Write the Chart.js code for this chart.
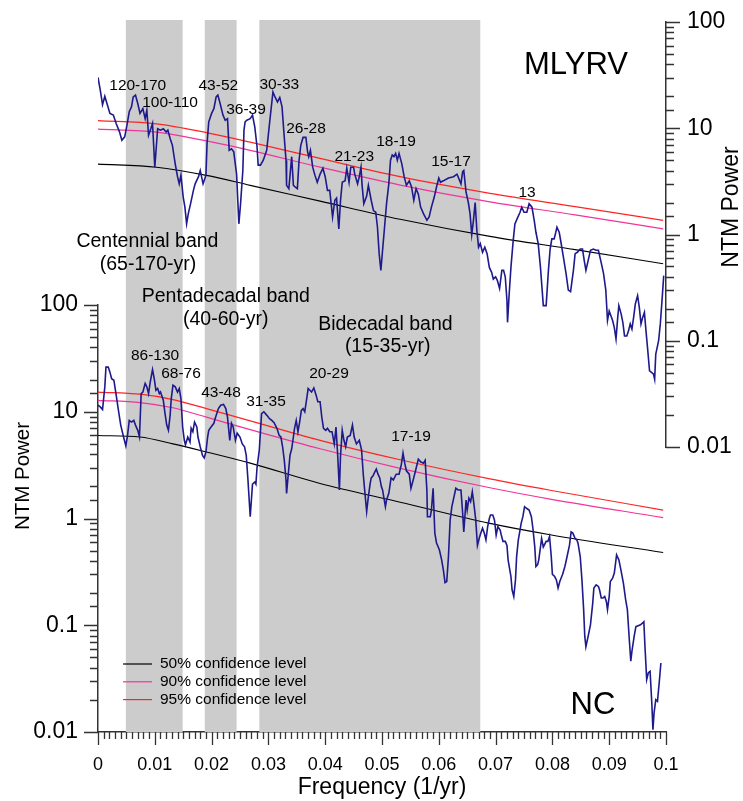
<!DOCTYPE html>
<html>
<head>
<meta charset="utf-8">
<script src="https://cdn.jsdelivr.net/npm/chart.js@4.4.1/dist/chart.umd.min.js"></script>
<style>
  html, body { margin: 0; padding: 0; background: #fff; }
  #wrap { position: relative; width: 743px; height: 801px; }
  #wrap canvas { position: absolute; left: 0; top: 0; }
</style>
</head>
<body>
<div id="wrap">
  <canvas id="ncChart" width="743" height="801"></canvas>
  <canvas id="mlyrvChart" width="743" height="801"></canvas>
</div>
<script>
// ---- MLYRV spectrum (upper panel, right axis) ----
const mlyrvFreq = [
  0, 0.0004, 0.0008, 0.0012, 0.0015, 0.0021, 0.0027, 0.0032, 0.0038, 0.0042,
  0.0047, 0.0051, 0.0055, 0.0059, 0.0062, 0.0066, 0.0070, 0.0074, 0.0079, 0.0083,
  0.0086, 0.0089, 0.0093, 0.0096, 0.0100, 0.0105, 0.0110, 0.0115, 0.0120, 0.0123,
  0.0127, 0.0131, 0.0136, 0.0140, 0.0143, 0.0146, 0.0150, 0.0153, 0.0156, 0.0159,
  0.0163, 0.0168, 0.0171, 0.0177, 0.0180, 0.0185, 0.0190, 0.0192, 0.0195, 0.0200,
  0.0204, 0.0208, 0.0211, 0.0215, 0.0220, 0.0224, 0.0228, 0.0231, 0.0235, 0.0239,
  0.0244, 0.0248, 0.0251, 0.0255, 0.0257, 0.0259, 0.0262, 0.0268, 0.0272, 0.0276,
  0.0280, 0.0282, 0.0286, 0.0291, 0.0297, 0.0302, 0.0308, 0.0312, 0.0316, 0.0320,
  0.0324, 0.0327, 0.0331, 0.0332, 0.0336, 0.0341, 0.0344, 0.0347, 0.0351, 0.0354,
  0.0357, 0.0361, 0.0366, 0.0369, 0.0371, 0.0374, 0.0378, 0.0382, 0.0386, 0.0391,
  0.0396, 0.0400, 0.0404, 0.0408, 0.0413, 0.0417, 0.0420, 0.0424, 0.0427, 0.0430,
  0.0435, 0.0438, 0.0442, 0.0445, 0.0450, 0.0452, 0.0457, 0.0460, 0.0463, 0.0465,
  0.0468, 0.0473, 0.0476, 0.0481, 0.0485, 0.0489, 0.0492, 0.0495, 0.0498, 0.0501,
  0.0504, 0.0508, 0.0512, 0.0515, 0.0518, 0.0521, 0.0524, 0.0527, 0.0530, 0.0535,
  0.0539, 0.0543, 0.0548, 0.0552, 0.0556, 0.0560, 0.0564, 0.0568, 0.0573, 0.0579,
  0.0583, 0.0587, 0.0592, 0.0596, 0.0600, 0.0603, 0.0608, 0.0617, 0.0626, 0.0632,
  0.0634, 0.0639, 0.0642, 0.0644, 0.0648, 0.0652, 0.0655, 0.0658, 0.0661, 0.0664,
  0.0667, 0.0670, 0.0673, 0.0677, 0.0681, 0.0685, 0.0689, 0.0693, 0.0696, 0.0700,
  0.0703, 0.0707, 0.0711, 0.0714, 0.0717, 0.0720, 0.0721, 0.0724, 0.0727, 0.0731,
  0.0734, 0.0738, 0.0743, 0.0746, 0.0750, 0.0755, 0.0759, 0.0764, 0.0768, 0.0771,
  0.0775, 0.0779, 0.0784, 0.0789, 0.0793, 0.0796, 0.0799, 0.0803, 0.0806, 0.0808,
  0.0812, 0.0815, 0.0819, 0.0824, 0.0828, 0.0832, 0.0837, 0.0840, 0.0844, 0.0849,
  0.0853, 0.0856, 0.0859, 0.0863, 0.0867, 0.0872, 0.0877, 0.0881, 0.0885, 0.0890,
  0.0894, 0.0897, 0.0900, 0.0903, 0.0906, 0.0909, 0.0912, 0.0915, 0.0917, 0.0921,
  0.0924, 0.0927, 0.0931, 0.0934, 0.0937, 0.0940, 0.0943, 0.0946, 0.0950, 0.0953,
  0.0956, 0.0959, 0.0962, 0.0965, 0.0968, 0.0971, 0.0975, 0.0978, 0.0980, 0.0982,
  0.0987, 0.0990, 0.0993, 0.0996
];
const mlyrvPower = [
  30.1, 22.8, 16.7, 20.0, 17.7, 13.8, 13.3, 11.1, 9.2, 7.7,
  8.3, 10.7, 14.3, 15.9, 19.7, 20.5, 17.1, 13.8, 15.3, 12.3,
  14.8, 8.6, 9.9, 11.1, 4.3, 9.9, 9.6, 9.9, 9.2, 9.6,
  8.0, 6.9, 4.6, 3.5, 3.0, 3.6, 2.25, 1.81, 1.26, 1.57,
  1.95, 2.6, 3.0, 3.5, 4.0, 3.0, 3.6, 7.2, 11.5, 13.8,
  15.3, 19.7, 20.5, 17.1, 13.3, 11.9, 12.3, 6.2, 6.4, 6.0,
  3.7, 1.26, 1.95, 4.0, 9.6, 11.5, 11.9, 12.3, 13.3, 10.3,
  6.7, 4.5, 4.5, 5.0, 6.2, 11.1, 22.0, 19.5, 17.7, 19.5,
  15.9, 9.6, 5.0, 2.9, 2.7, 5.4, 2.9, 2.8, 2.7, 5.0,
  6.9, 8.2, 8.2, 6.0, 5.4, 6.2, 4.3, 3.6, 3.1, 3.7,
  4.2, 3.5, 2.6, 2.6, 1.46, 2.1, 2.2, 1.13, 2.1, 3.1,
  3.2, 4.2, 3.1, 4.3, 4.3, 3.7, 3.0, 3.5, 4.3, 2.9,
  1.95, 2.3, 2.9, 2.1, 1.68, 1.62, 1.17, 0.66, 0.46, 0.71,
  1.09, 1.95, 3.0, 5.0, 5.6, 5.4, 5.8, 5.0, 5.8, 4.6,
  3.5, 2.9, 3.2, 2.8, 2.1, 2.7, 2.4, 1.81, 1.57, 1.36,
  1.46, 1.81, 2.25, 2.8, 3.4, 3.1, 3.2, 3.4, 3.5, 3.7,
  3.5, 3.0, 3.9, 4.0, 2.5, 2.0, 1.57, 1.0, 1.36, 2.0,
  1.09, 0.76, 0.82, 0.68, 0.76, 0.66, 0.49, 0.44, 0.38, 0.40,
  0.37, 0.31, 0.46, 0.46, 0.40, 0.24, 0.149, 0.28, 0.49, 0.88,
  1.26, 1.41, 1.62, 1.81, 1.62, 1.62, 1.95, 1.81, 1.36, 1.05,
  0.82, 0.49, 0.214, 0.214, 0.46, 0.73, 0.91, 0.91, 1.05, 1.17,
  1.05, 0.85, 0.63, 0.43, 0.30, 0.29, 0.46, 0.66, 0.68, 0.73,
  0.73, 0.57, 0.46, 0.57, 0.71, 0.73, 0.71, 0.71, 0.57, 0.43,
  0.30, 0.155, 0.19, 0.172, 0.155, 0.133, 0.104, 0.166, 0.214, 0.179,
  0.149, 0.111, 0.111, 0.124, 0.144, 0.129, 0.166, 0.222, 0.266, 0.206,
  0.144, 0.166, 0.185, 0.120, 0.080, 0.052, 0.050, 0.0485, 0.0435, 0.075,
  0.10, 0.144, 0.24, 0.41
];
const mlyrvConfFreq = [0, 0.0103, 0.0191, 0.0268, 0.0391, 0.0532, 0.0690, 0.0840, 0.0995];
const mlyrvConf95 = [11.8, 11.0, 9.1, 7.4, 5.2, 3.5, 2.44, 1.83, 1.36];
const mlyrvConf90 = [9.8, 9.2, 7.6, 6.2, 4.3, 2.92, 2.03, 1.53, 1.13];
const mlyrvConf50 = [4.6, 4.3, 3.6, 2.9, 2.06, 1.39, 0.96, 0.72, 0.53];

// ---- NC spectrum (lower panel, left axis) ----
const ncFreq = [
  0, 0.0004, 0.0008, 0.0012, 0.0014, 0.0018, 0.0021, 0.0024, 0.0028, 0.0032,
  0.0036, 0.0040, 0.0045, 0.0049, 0.0052, 0.0055, 0.0059, 0.0063, 0.0066, 0.0070,
  0.0073, 0.0076, 0.0079, 0.0083, 0.0086, 0.0089, 0.0092, 0.0096, 0.0099, 0.0102,
  0.0105, 0.0108, 0.0110, 0.0115, 0.0118, 0.0121, 0.0124, 0.0127, 0.0129, 0.0132,
  0.0136, 0.0140, 0.0143, 0.0146, 0.0149, 0.0152, 0.0154, 0.0158, 0.0162, 0.0164,
  0.0167, 0.0170, 0.0174, 0.0176, 0.0180, 0.0184, 0.0187, 0.0190, 0.0193, 0.0195,
  0.0199, 0.0204, 0.0207, 0.0212, 0.0216, 0.0221, 0.0225, 0.0228, 0.0232, 0.0235,
  0.0238, 0.0242, 0.0245, 0.0250, 0.0254, 0.0258, 0.0261, 0.0264, 0.0268, 0.0272,
  0.0276, 0.0278, 0.0280, 0.0284, 0.0288, 0.0292, 0.0297, 0.0302, 0.0306, 0.0310,
  0.0315, 0.0319, 0.0322, 0.0325, 0.0328, 0.0331, 0.0332, 0.0335, 0.0338, 0.0341,
  0.0344, 0.0346, 0.0349, 0.0352, 0.0355, 0.0358, 0.0361, 0.0364, 0.0367, 0.0370,
  0.0373, 0.0376, 0.0380, 0.0384, 0.0387, 0.0391, 0.0394, 0.0397, 0.0401, 0.0404,
  0.0408, 0.0412, 0.0416, 0.0419, 0.0422, 0.0425, 0.0427, 0.0430, 0.0433, 0.0436,
  0.0439, 0.0444, 0.0448, 0.0451, 0.0455, 0.0460, 0.0464, 0.0467, 0.0470, 0.0473,
  0.0476, 0.0479, 0.0481, 0.0484, 0.0487, 0.0490, 0.0493, 0.0496, 0.0499, 0.0501,
  0.0506, 0.0508, 0.0512, 0.0516, 0.0520, 0.0525, 0.0530, 0.0534, 0.0537, 0.0540,
  0.0543, 0.0548, 0.0551, 0.0555, 0.0559, 0.0564, 0.0568, 0.0573, 0.0576, 0.0579,
  0.0580, 0.0585, 0.0587, 0.0590, 0.0593, 0.0596, 0.0601, 0.0605, 0.0608, 0.0611,
  0.0614, 0.0617, 0.0620, 0.0623, 0.0627, 0.0630, 0.0634, 0.0639, 0.0642, 0.0644,
  0.0648, 0.0650, 0.0653, 0.0656, 0.0659, 0.0662, 0.0665, 0.0668, 0.0671, 0.0674,
  0.0677, 0.0680, 0.0683, 0.0686, 0.0689, 0.0691, 0.0695, 0.0698, 0.0701, 0.0704,
  0.0708, 0.0710, 0.0713, 0.0717, 0.0720, 0.0722, 0.0727, 0.0729, 0.0732, 0.0735,
  0.0737, 0.0740, 0.0743, 0.0745, 0.0748, 0.0751, 0.0755, 0.0759, 0.0763, 0.0766,
  0.0769, 0.0771, 0.0774, 0.0776, 0.0781, 0.0784, 0.0789, 0.0792, 0.0795, 0.0798,
  0.0800, 0.0804, 0.0807, 0.0810, 0.0813, 0.0818, 0.0822, 0.0825, 0.0830, 0.0833,
  0.0836, 0.0840, 0.0843, 0.0845, 0.0849, 0.0852, 0.0855, 0.0857, 0.0859, 0.0863,
  0.0867, 0.0871, 0.0873, 0.0877, 0.0881, 0.0883, 0.0886, 0.0889, 0.0892, 0.0895,
  0.0897, 0.0900, 0.0902, 0.0906, 0.0909, 0.0913, 0.0917, 0.0920, 0.0925, 0.0929,
  0.0932, 0.0935, 0.0938, 0.0940, 0.0944, 0.0947, 0.0951, 0.0955, 0.0959, 0.0961,
  0.0963, 0.0966, 0.0969, 0.0972, 0.0975, 0.0977, 0.0979, 0.0982, 0.0985, 0.0988,
  0.0991
];
const ncPower = [
  11.5, 11.1, 10.5, 17.1, 26.2, 26.2, 23.5, 20.4, 19.7, 14.3,
  10.3, 7.5, 5.8, 4.8, 6.0, 8.3, 8.0, 8.3, 7.5, 6.7,
  5.8, 14.8, 15.3, 18.4, 17.1, 14.8, 19.0, 24.8, 20.4, 15.9,
  16.5, 14.8, 15.3, 12.8, 9.6, 7.5, 6.7, 9.3, 13.3, 17.7,
  17.1, 15.3, 16.5, 13.3, 7.2, 5.4, 4.9, 5.8, 5.2, 7.0,
  6.5, 8.0, 7.2, 5.8, 4.7, 3.9, 3.7, 4.2, 5.8, 6.7,
  7.2, 7.8, 8.9, 10.7, 11.5, 11.7, 10.7, 8.9, 5.4, 7.8,
  7.2, 5.4, 6.3, 5.8, 5.0, 4.7, 3.9, 2.3, 1.04, 2.1,
  2.2, 2.1, 3.0, 4.4, 9.6, 10.0, 9.3, 8.6, 8.3, 7.9,
  7.0, 6.0, 5.8, 4.7, 3.5, 2.3, 1.72, 2.6, 3.9, 4.5,
  5.8, 7.0, 8.3, 6.5, 8.0, 10.3, 10.7, 10.0, 12.8, 16.5,
  15.9, 15.3, 16.7, 14.3, 12.4, 12.4, 8.9, 7.0, 6.7, 7.0,
  6.5, 6.5, 5.0, 7.2, 3.9, 1.85, 3.9, 6.7, 5.4, 4.7,
  5.8, 6.0, 7.5, 5.8, 5.0, 5.4, 4.4, 2.6, 1.72, 1.16,
  1.60, 2.1, 2.4, 2.5, 2.7, 2.9, 2.6, 2.4, 1.98, 1.85,
  1.29, 1.49, 1.72, 2.4, 2.3, 2.6, 2.6, 3.2, 4.1, 3.3,
  2.8, 2.6, 1.92, 2.3, 2.8, 3.6, 3.4, 3.3, 3.5, 1.85,
  1.04, 1.04, 1.2, 1.92, 0.73, 0.59, 0.51, 0.41, 0.33, 0.251,
  0.257, 0.44, 0.97, 1.29, 1.62, 1.92, 1.85, 1.85, 1.12, 0.75,
  1.49, 1.2, 1.55, 1.44, 1.78, 1.34, 0.97, 0.56, 0.65, 0.73,
  0.81, 0.73, 0.63, 0.84, 1.0, 1.08, 1.08, 0.97, 0.70, 0.84,
  0.78, 0.70, 0.61, 0.61, 0.56, 0.41, 0.286, 0.215, 0.186, 0.266,
  0.44, 0.63, 0.78, 0.90, 1.04, 1.29, 1.24, 1.2, 1.04, 0.78,
  0.54, 0.355, 0.37, 0.41, 0.65, 0.54, 0.61, 0.61, 0.68, 0.44,
  0.30, 0.286, 0.266, 0.223, 0.257, 0.30, 0.355, 0.42, 0.56, 0.75,
  0.73, 0.65, 0.63, 0.59, 0.44, 0.266, 0.14, 0.079, 0.063, 0.079,
  0.101, 0.161, 0.223, 0.239, 0.231, 0.215, 0.180, 0.180, 0.186, 0.167,
  0.14, 0.186, 0.257, 0.276, 0.308, 0.456, 0.41, 0.343, 0.248, 0.173,
  0.140, 0.079, 0.046, 0.057, 0.079, 0.097, 0.099, 0.101, 0.105, 0.108,
  0.063, 0.031, 0.036, 0.037, 0.0187, 0.0105, 0.0151, 0.0201, 0.0194, 0.0288,
  0.0443
];
const ncConfFreq = [0, 0.0074, 0.0132, 0.0191, 0.0268, 0.0391, 0.0532, 0.0690, 0.0796, 0.0995];
const ncConf95 = [15.3, 14.6, 13.0, 10.7, 8.2, 5.4, 3.55, 2.35, 1.84, 1.20];
const ncConf90 = [12.8, 12.2, 10.9, 8.9, 6.8, 4.5, 2.95, 1.94, 1.52, 1.02];
const ncConf50 = [6.0, 5.8, 5.0, 4.2, 3.3, 2.13, 1.42, 0.90, 0.705, 0.48];

// ---- frequency bands (shaded) ----
const bandStart = [0.0049, 0.0188, 0.0284];
const bandEnd = [0.0149, 0.0244, 0.0673];
const bandNames = ['Centennial band', 'Pentadecadal band', 'Bidecadal band'];
const bandRanges = ['(65-170-yr)', '(40-60-yr)', '(15-35-yr)'];
// anchors in upper-panel data units (frequency, power)
const bandNameFreq = [0.0087, 0.0225, 0.0506];
const bandNamePower = [0.85, 0.258, 0.141];
const bandRangeFreq = [0.0088, 0.0225, 0.0510];
const bandRangePower = [0.516, 0.157, 0.0873];

// ---- peak period labels (years) ----
const mlyrvPeakText = ['120-170', '100-110', '43-52', '36-39', '30-33', '26-28', '21-23', '18-19', '15-17', '13'];
const mlyrvPeakFreq = [0.00699, 0.01268, 0.02118, 0.02606, 0.03192, 0.03662, 0.04512, 0.05246, 0.06215, 0.07553];
const mlyrvPeakPower = [25.1, 17.5, 25.1, 14.9, 25.5, 9.8, 5.4, 7.5, 4.84, 2.47];
const ncPeakText = ['86-130', '68-76', '43-48', '31-35', '20-29', '17-19'];
const ncPeakFreq = [0.01004, 0.01461, 0.02165, 0.02958, 0.04067, 0.05511];
const ncPeakPower = [33.6, 22.9, 15.1, 12.4, 22.9, 5.84];

// ---- layout / style ----
const FONT = '"Liberation Sans", Arial, Helvetica, sans-serif';
const W = 743, H = 801;
const PLOT_LEFT = 98, PLOT_RIGHT = 666;
const TOP_PANEL = { top: 22, bottom: 447 };
const BOTTOM_PANEL = { top: 305, bottom: 732 };
const BAND_TOP = 20;
const AXIS_COLOR = '#333';
const NAVY = '#1e1a8c';
const RED = '#ff2424';
const PINK = '#f2339a';

Chart.defaults.font.family = FONT;
Chart.defaults.color = '#000';

function toPoints(xs, ys) { return xs.map((x, i) => ({ x: x, y: ys[i] })); }
function isDecade(v) { const l = Math.log10(v); return Math.abs(l - Math.round(l)) < 1e-6; }
function isHundredth(v) { return Math.abs(v * 100 - Math.round(v * 100)) < 1e-6; }
function drawText(ctx, text, x, y, size) {
  ctx.font = size + 'px ' + FONT;
  ctx.fillText(text, x, y);
}

function seriesSet(freq, power, c95, c90, c50, cFreq) {
  return [
    { label: 'series', data: toPoints(freq, power), borderColor: NAVY, borderWidth: 1.6, pointRadius: 0 },
    { label: '95% confidence level', data: toPoints(cFreq, c95), borderColor: RED, borderWidth: 1.2, pointRadius: 0, cubicInterpolationMode: 'monotone' },
    { label: '90% confidence level', data: toPoints(cFreq, c90), borderColor: PINK, borderWidth: 1.2, pointRadius: 0, cubicInterpolationMode: 'monotone' },
    { label: '50% confidence level', data: toPoints(cFreq, c50), borderColor: '#000', borderWidth: 1.1, pointRadius: 0, cubicInterpolationMode: 'monotone' }
  ];
}

// fixed axis width, and no extra label padding pushed into the layout
const fixWidth = w => s => { s.width = w; s.paddingTop = 0; s.paddingBottom = 0; };

const logAxis = (position, afterFit, pad) => ({
  type: 'logarithmic', position: position, min: 0.01, max: 100,
  afterFit: afterFit,
  grid: { display: false, drawTicks: false },
  border: { color: AXIS_COLOR, width: 1.5 },
  ticks: {
    autoSkip: false, padding: pad, color: '#000', font: { size: 23 },
    callback: v => isDecade(v) ? String(parseFloat(v.toPrecision(3))) : ''
  }
});

// outward tick marks, long on labelled values
const tickMarks = {
  id: 'tickMarks',
  afterDraw(chart) {
    const ctx = chart.ctx;
    ctx.save();
    ctx.strokeStyle = AXIS_COLOR;
    ctx.lineWidth = 1.3;
    ctx.beginPath();
    Object.values(chart.scales).forEach(scale => {
      if (!scale.options.display) return;
      const pos = scale.options.position;
      scale.ticks.forEach(t => {
        const p = Math.round(scale.getPixelForValue(t.value)) + 0.5;
        if (pos === 'bottom') {
          const len = isHundredth(t.value) ? 13 : 7;
          ctx.moveTo(p, scale.top); ctx.lineTo(p, scale.top + len);
        } else {
          const len = isDecade(t.value) ? 14 : 8;
          const edge = pos === 'left' ? scale.right : scale.left;
          ctx.moveTo(edge, p); ctx.lineTo(edge + (pos === 'left' ? -len : len), p);
        }
      });
    });
    ctx.stroke();
    ctx.restore();
  }
};

const bandShading = {
  id: 'bandShading',
  beforeDatasetsDraw(chart) {
    const { ctx, chartArea, scales: { x } } = chart;
    ctx.save();
    ctx.fillStyle = '#cccccc';
    bandStart.forEach((f0, i) => {
      const x0 = x.getPixelForValue(f0), x1 = x.getPixelForValue(bandEnd[i]);
      ctx.fillRect(x0, BAND_TOP, x1 - x0, chartArea.bottom - BAND_TOP);
    });
    ctx.restore();
  }
};

const ncAnnotations = {
  id: 'ncAnnotations',
  afterDatasetsDraw(chart) {
    const { ctx, scales: { x, y } } = chart;
    ctx.save();
    ctx.fillStyle = '#000';
    ctx.textAlign = 'center';
    ctx.textBaseline = 'middle';
    ncPeakText.forEach((t, i) => drawText(ctx, t, x.getPixelForValue(ncPeakFreq[i]), y.getPixelForValue(ncPeakPower[i]), 15.5));
    drawText(ctx, 'NC', x.getPixelForValue(0.08715), y.getPixelForValue(0.0179), 31);

    // legend
    const legend = [chart.data.datasets[3], chart.data.datasets[2], chart.data.datasets[1]];
    ctx.textAlign = 'left';
    legend.forEach((ds, i) => {
      const ly = 664 + i * 17.8;
      ctx.strokeStyle = ds.borderColor;
      ctx.lineWidth = 1.2;
      ctx.beginPath(); ctx.moveTo(123, ly); ctx.lineTo(152, ly); ctx.stroke();
      drawText(ctx, ds.label, 160, ly, 15.5);
    });

    // left axis title
    ctx.translate(23, 476);
    ctx.rotate(-Math.PI / 2);
    ctx.textAlign = 'center';
    drawText(ctx, 'NTM Power', 0, 0, 20.5);
    ctx.restore();
  }
};

const mlyrvAnnotations = {
  id: 'mlyrvAnnotations',
  afterDatasetsDraw(chart) {
    const { ctx, scales: { x, y } } = chart;
    ctx.save();
    ctx.fillStyle = '#000';
    ctx.textAlign = 'center';
    ctx.textBaseline = 'middle';
    mlyrvPeakText.forEach((t, i) => drawText(ctx, t, x.getPixelForValue(mlyrvPeakFreq[i]), y.getPixelForValue(mlyrvPeakPower[i]), 15.5));
    drawText(ctx, 'MLYRV', x.getPixelForValue(0.08415), y.getPixelForValue(39.4), 31);
    bandNames.forEach((t, i) => {
      drawText(ctx, t, x.getPixelForValue(bandNameFreq[i]), y.getPixelForValue(bandNamePower[i]), 19.5);
      drawText(ctx, bandRanges[i], x.getPixelForValue(bandRangeFreq[i]), y.getPixelForValue(bandRangePower[i]), 19.5);
    });
    // right axis title
    ctx.translate(732, 207);
    ctx.rotate(-Math.PI / 2);
    drawText(ctx, 'NTM Power', 0, 0, 23);
    ctx.restore();
  }
};

const common = { responsive: false, animation: false, devicePixelRatio: 1, events: [] };

new Chart(document.getElementById('ncChart'), {
  type: 'line',
  data: { datasets: seriesSet(ncFreq, ncPower, ncConf95, ncConf90, ncConf50, ncConfFreq) },
  options: Object.assign({}, common, {
    layout: { autoPadding: false, padding: { left: 0, right: W - PLOT_RIGHT, top: BOTTOM_PANEL.top, bottom: 0 } },
    plugins: { legend: { display: false }, tooltip: { enabled: false } },
    scales: {
      x: {
        type: 'linear', position: 'bottom', min: 0, max: 0.1,
        afterFit: s => { s.height = H - BOTTOM_PANEL.bottom; },
        grid: { display: false, drawTicks: false },
        border: { color: AXIS_COLOR, width: 1.5 },
        ticks: {
          stepSize: 0.001, autoSkip: false, maxRotation: 0, padding: 22, color: '#000', font: { size: 18 },
          callback: v => isHundredth(v) ? String(Math.round(v * 100) / 100) : ''
        },
        title: { display: true, text: 'Frequency (1/yr)', color: '#000', font: { size: 23 }, padding: { top: 0, bottom: 0 } }
      },
      y: logAxis('left', fixWidth(PLOT_LEFT), 20)
    }
  }),
  plugins: [bandShading, tickMarks, ncAnnotations]
});

new Chart(document.getElementById('mlyrvChart'), {
  type: 'line',
  data: { datasets: seriesSet(mlyrvFreq, mlyrvPower, mlyrvConf95, mlyrvConf90, mlyrvConf50, mlyrvConfFreq) },
  options: Object.assign({}, common, {
    layout: { autoPadding: false, padding: { left: PLOT_LEFT, right: 0, top: TOP_PANEL.top, bottom: H - TOP_PANEL.bottom } },
    plugins: { legend: { display: false }, tooltip: { enabled: false } },
    scales: {
      x: { type: 'linear', display: false, min: 0, max: 0.1 },
      y: logAxis('right', fixWidth(W - PLOT_RIGHT), 21)
    }
  }),
  plugins: [tickMarks, mlyrvAnnotations]
});
</script>
</body>
</html>
